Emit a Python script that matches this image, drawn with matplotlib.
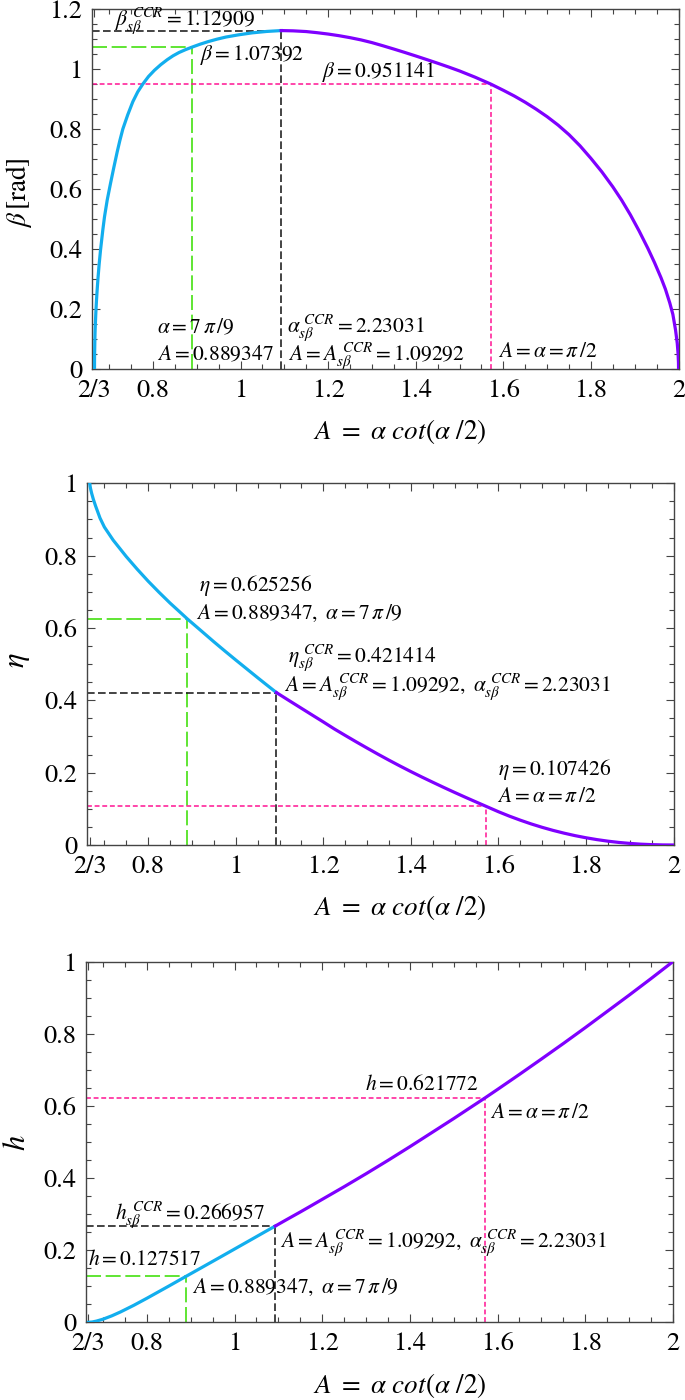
import numpy as np
import matplotlib
matplotlib.use("Agg")
import matplotlib.pyplot as plt

plt.rcParams['mathtext.fontset'] = 'stix'
plt.rcParams['font.family'] = ['STIXGeneral', 'DejaVu Serif']

# ---------------- data ----------------
A_ticks = [2/3, 0.8, 1.0, 1.2, 1.4, 1.6, 1.8, 2.0]
A_ticklabels = ['2/3', '0.8', '1', '1.2', '1.4', '1.6', '1.8', '2']
beta_ticks = [0, 0.2, 0.4, 0.6, 0.8, 1.0, 1.2]
beta_ticklabels = ['0', '0.2', '0.4', '0.6', '0.8', '1', '1.2']
unit_ticks = [0, 0.2, 0.4, 0.6, 0.8, 1.0]
unit_ticklabels = ['0', '0.2', '0.4', '0.6', '0.8', '1']

A_green = 0.889347      # alpha = 7 pi / 9
A_black = 1.09292       # A_sbeta^CCR
A_magenta = 1.570796    # A = alpha = pi/2

beta_green, beta_black, beta_magenta = 1.07392, 1.12909, 0.951141
eta_green, eta_black, eta_magenta = 0.625256, 0.421414, 0.107426
h_green, h_black, h_magenta = 0.127517, 0.266957, 0.621772

# beta(A) -- blue branch
A_beta_blue = [0.6667, 0.66675, 0.6669, 0.6672, 0.6675, 0.668, 0.6687, 0.6698, 0.6713,
               0.6728, 0.6747, 0.6773, 0.6805, 0.6857, 0.6896, 0.6957, 0.7033, 0.7107,
               0.7184, 0.7245, 0.7314, 0.7425, 0.7542, 0.7655, 0.7771, 0.79, 0.8037,
               0.818, 0.8327, 0.846, 0.8597, 0.8745, 0.889347, 0.9075, 0.9267, 0.9465,
               0.9667, 0.996, 1.0267, 1.06, 1.09292]
beta_blue = [0.0, 0.024, 0.048, 0.07, 0.096, 0.125, 0.152, 0.19, 0.231,
             0.265, 0.304, 0.35, 0.398, 0.4645, 0.509, 0.564, 0.62, 0.672,
             0.724, 0.762, 0.801, 0.848, 0.892, 0.925, 0.951, 0.976, 0.997,
             1.0155, 1.032, 1.045, 1.056, 1.0655, 1.07392, 1.0835, 1.0925, 1.1005,
             1.1075, 1.115, 1.1215, 1.1262, 1.12909]
# beta(A) -- purple branch
A_beta_purple = [1.09292, 1.12, 1.15, 1.175, 1.2, 1.225, 1.25, 1.275, 1.3, 1.325,
                 1.35, 1.375, 1.4, 1.425, 1.45, 1.475, 1.5, 1.535, 1.570796, 1.6,
                 1.625, 1.65, 1.675, 1.7, 1.725, 1.75, 1.775, 1.8, 1.825, 1.85,
                 1.87, 1.89, 1.91, 1.93, 1.945, 1.96, 1.97, 1.98, 1.987, 1.993,
                 1.997, 1.999, 1.9998, 2.0]
beta_purple = [1.12909, 1.1282, 1.1258, 1.122, 1.1175, 1.112, 1.1055, 1.098, 1.089, 1.0785,
               1.0675, 1.0562, 1.0445, 1.0325, 1.0203, 1.0077, 0.9945, 0.974, 0.951141, 0.930,
               0.911, 0.890, 0.867, 0.842, 0.814, 0.782, 0.745, 0.703, 0.658, 0.608,
               0.564, 0.515, 0.461, 0.403, 0.356, 0.305, 0.267, 0.221, 0.183, 0.132,
               0.087, 0.05, 0.022, 0.0]

# eta(A)
A_eta_blue = [0.6667, 0.6672, 0.6685, 0.671, 0.675, 0.68, 0.69, 0.70, 0.72, 0.75,
              0.775, 0.8, 0.825, 0.85, 0.87, 0.889347, 0.92, 0.95, 0.975, 1.0,
              1.025, 1.05, 1.07, 1.09292]
eta_blue = [1.0, 0.993, 0.985, 0.972, 0.955, 0.937, 0.904, 0.879, 0.843, 0.7974,
            0.7625, 0.7294, 0.6985, 0.6689, 0.6468, 0.625256, 0.5933, 0.5619, 0.5365, 0.5116,
            0.4871, 0.4626, 0.4433, 0.421414]
A_eta_purple = [1.09292, 1.12, 1.15, 1.175, 1.2, 1.225, 1.25, 1.275, 1.3, 1.325,
                1.35, 1.375, 1.4, 1.425, 1.45, 1.475, 1.5, 1.525, 1.55, 1.570796,
                1.6, 1.625, 1.65, 1.675, 1.7, 1.725, 1.75, 1.775, 1.8, 1.825,
                1.85, 1.875, 1.9, 1.925, 1.95, 1.975, 2.0]
eta_purple = [0.421414, 0.4007, 0.378, 0.3591, 0.3403, 0.321, 0.303, 0.2853, 0.268, 0.251,
              0.2345, 0.2185, 0.203, 0.188, 0.1735, 0.1592, 0.1453, 0.1317, 0.1184, 0.107426,
              0.092, 0.0798, 0.0686, 0.0582, 0.0488, 0.0403, 0.0327, 0.0259, 0.0200, 0.0149,
              0.0106, 0.0071, 0.0044, 0.0023, 0.001, 0.0002, 0.0]

# h(A)
A_h_blue = [0.6667, 0.675, 0.685, 0.70, 0.72, 0.74, 0.77, 0.8, 0.85, 0.889347,
            0.92, 0.95, 0.975, 1.0, 1.025, 1.05, 1.07, 1.09292]
h_blue = [0.0, 0.0008, 0.0034, 0.0087, 0.018, 0.0289, 0.0471, 0.0667, 0.1005, 0.127517,
          0.1484, 0.1689, 0.186, 0.2032, 0.2204, 0.2376, 0.2514, 0.266957]
A_h_purple = [1.09292, 1.12, 1.15, 1.175, 1.2, 1.225, 1.25, 1.275, 1.3, 1.325,
              1.35, 1.375, 1.4, 1.425, 1.45, 1.475, 1.5, 1.535, 1.570796, 1.6,
              1.65, 1.7, 1.75, 1.8, 1.85, 1.9, 1.95, 2.0]
h_purple = [0.266957, 0.2856, 0.306, 0.3234, 0.341, 0.3585, 0.376, 0.394, 0.412, 0.4305,
            0.449, 0.468, 0.487, 0.5065, 0.526, 0.5455, 0.565, 0.5931, 0.621772, 0.6458,
            0.6875, 0.730, 0.773, 0.817, 0.862, 0.907, 0.953, 1.0]

# ---------------- style ----------------
BLUE = '#12AEEE'
PURPLE = '#7F00FF'
GREEN = '#44E010'
BLACK = '#111111'
MAGENTA = '#FF1493'
LS_GREEN = (0, (9, 2.8))
LS_BLACK = (0, (5, 2.2))
LS_MAG = (0, (3.2, 1.8))
XLIM = (0.661, 2.001)
TEXT_FS = 15.5

W, H = 685, 1400
fig = plt.figure(figsize=(W / 100, H / 100), dpi=100)


def rect(l, r, t, b):
    return [l / W, 1 - b / H, (r - l) / W, (b - t) / H]


def style_axes(ax, yticks, yticklabels, ylim):
    ax.set_xlim(*XLIM)
    ax.set_ylim(*ylim)
    ax.set_xticks(A_ticks)
    ax.set_xticklabels(A_ticklabels)
    ax.set_yticks(yticks)
    ax.set_yticklabels(yticklabels)
    ax.set_xticks(np.arange(0.7, 2.0, 0.05), minor=True)
    ax.set_yticks(np.arange(0, ylim[1] + 1e-9, 0.05), minor=True)
    ax.tick_params(which='both', direction='in', top=True, right=True,
                   color='#444444', width=0.8, labelsize=19, pad=7)
    ax.tick_params(which='major', length=6)
    ax.tick_params(which='minor', length=3.5)
    for s in ax.spines.values():
        s.set_color('#444444')
        s.set_linewidth(1.0)


def guides(ax, a_g, v_g, a_b, v_b, a_m, v_m):
    x0 = XLIM[0]
    ax.plot([x0, a_g], [v_g, v_g], color=GREEN, lw=1.2, ls=LS_GREEN, zorder=2)
    ax.plot([a_g, a_g], [0, v_g], color=GREEN, lw=1.2, ls=LS_GREEN, zorder=2)
    ax.plot([x0, a_b], [v_b, v_b], color=BLACK, lw=1.1, ls=LS_BLACK, zorder=2)
    ax.plot([a_b, a_b], [0, v_b], color=BLACK, lw=1.1, ls=LS_BLACK, zorder=2)
    ax.plot([x0, a_m], [v_m, v_m], color=MAGENTA, lw=1.1, ls=LS_MAG, zorder=2)
    ax.plot([a_m, a_m], [0, v_m], color=MAGENTA, lw=1.1, ls=LS_MAG, zorder=2)


def curves(ax, xb, yb, xp, yp):
    ax.plot(xb, yb, color=BLUE, lw=2.3, zorder=3, solid_joinstyle='round')
    ax.plot(xp, yp, color=PURPLE, lw=2.3, zorder=3, solid_joinstyle='round')


def txt(ax, x, y, s):
    ax.text(x, y, s, fontsize=TEXT_FS, ha='left', va='baseline', zorder=4)


# ---------------- panel 1 : beta ----------------
ax1 = fig.add_axes(rect(92, 679, 9.3, 369.3))
style_axes(ax1, beta_ticks, beta_ticklabels, (0, 1.2))
guides(ax1, A_green, beta_green, A_black, beta_black, A_magenta, beta_magenta)
curves(ax1, A_beta_blue, beta_blue, A_beta_purple, beta_purple)
txt(ax1, 0.713, 1.148, r'$\beta_{s\beta}^{\ CCR}{=}1.12909$')
txt(ax1, 0.907, 1.031, r'$\beta{=}1.07392$')
txt(ax1, 1.186, 0.973, r'$\beta{=}0.951141$')
txt(ax1, 0.809, 0.121, r'$\alpha = 7\,\pi\,/9$')
txt(ax1, 0.809, 0.031, r'$A = 0.889347$')
txt(ax1, 1.106, 0.125, r'$\alpha_{s\beta}^{\ CCR} = 2.23031$')
txt(ax1, 1.1086, 0.031, r'$A = A_{s\beta}^{\ CCR} = 1.09292$')
txt(ax1, 1.5886, 0.040, r'$A = \alpha = \pi\,/2$')

# ---------------- panel 2 : eta ----------------
ax2 = fig.add_axes(rect(87.3, 674, 483.3, 845))
style_axes(ax2, unit_ticks, unit_ticklabels, (0, 1.0))
guides(ax2, A_green, eta_green, A_black, eta_black, A_magenta, eta_magenta)
curves(ax2, A_eta_blue, eta_blue, A_eta_purple, eta_purple)
txt(ax2, 0.9156, 0.703, r'$\eta = 0.625256$')
txt(ax2, 0.9088, 0.624, r'$A = 0.889347,\ \alpha = 7\,\pi\,/9$')
txt(ax2, 1.1186, 0.505, r'$\eta_{s\beta}^{\ CCR} = 0.421414$')
txt(ax2, 1.1095, 0.426, r'$A = A_{s\beta}^{\ CCR} = 1.09292,\ \alpha_{s\beta}^{\ CCR} = 2.23031$')
txt(ax2, 1.5998, 0.1935, r'$\eta = 0.107426$')
txt(ax2, 1.5975, 0.120, r'$A = \alpha = \pi\,/2$')

# ---------------- panel 3 : h ----------------
ax3 = fig.add_axes(rect(86, 673.3, 961.7, 1322.3))
style_axes(ax3, unit_ticks, unit_ticklabels, (0, 1.0))
guides(ax3, A_green, h_green, A_black, h_black, A_magenta, h_magenta)
curves(ax3, A_h_blue, h_blue, A_h_purple, h_purple)
txt(ax3, 0.728, 0.2856, r'$h_{s\beta}^{\ CCR} = 0.266957$')
txt(ax3, 0.6664, 0.159, r'$h = 0.127517$')
txt(ax3, 0.9034, 0.0804, r'$A = 0.889347,\ \alpha = 7\,\pi\,/9$')
txt(ax3, 1.1039, 0.2097, r'$A = A_{s\beta}^{\ CCR} = 1.09292,\ \alpha_{s\beta}^{\ CCR} = 2.23031$')
txt(ax3, 1.2975, 0.644, r'$h = 0.621772$')
txt(ax3, 1.582, 0.567, r'$A = \alpha = \pi\,/2$')

# ---------------- axis labels ----------------
xlab = r'$A\ =\ \alpha\ cot(\alpha\ /2)$'
for yc in (432, 908, 1385):
    fig.text(400 / W, 1 - yc / H, xlab, fontsize=19.5, ha='center', va='center')
fig.text(19 / W, 1 - 193 / H, r'$\beta\,$[rad]', fontsize=19.5, rotation=90,
         ha='center', va='center')
fig.text(18 / W, 1 - 660 / H, r'$\eta$', fontsize=22, rotation=90,
         ha='center', va='center')
fig.text(18 / W, 1 - 1143 / H, r'$h$', fontsize=22, rotation=90,
         ha='center', va='center')

fig.savefig('out.png', dpi=100)
